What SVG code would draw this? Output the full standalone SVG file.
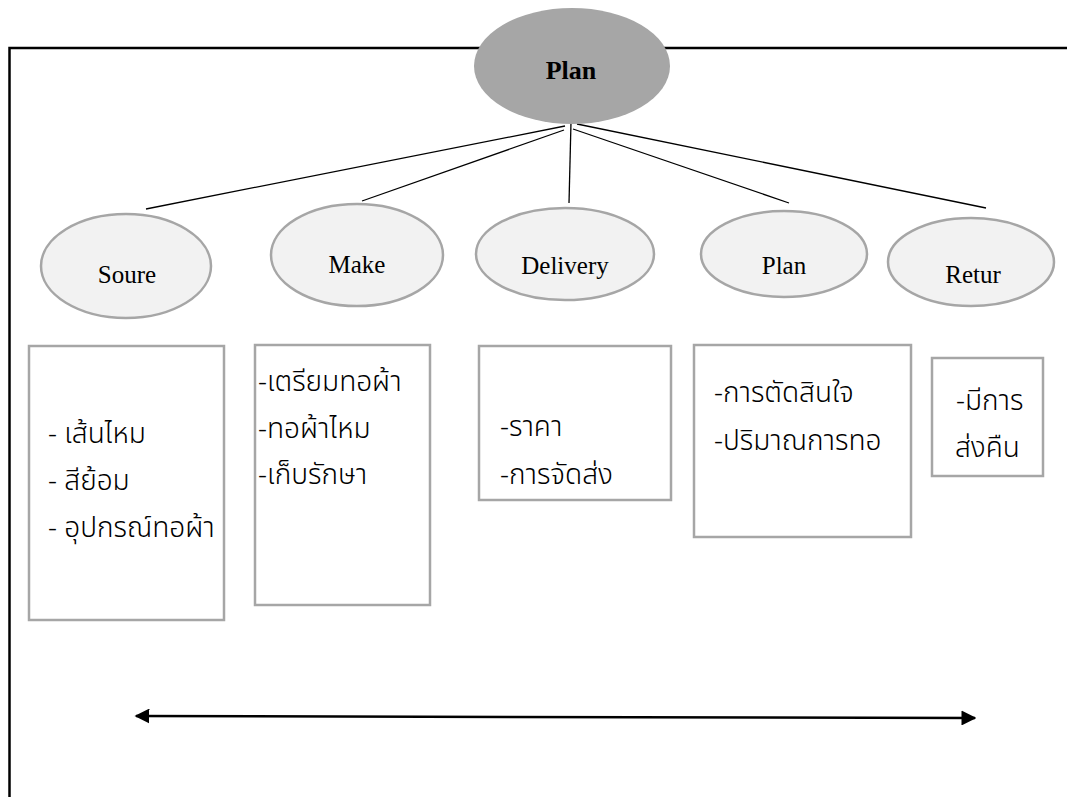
<svg xmlns="http://www.w3.org/2000/svg" width="1067" height="797" viewBox="0 0 1067 797">
<style>
.lbl{font-family:"Liberation Serif","Times New Roman",serif;font-size:25px;fill:#000;text-anchor:middle}
.top{font-size:26px;font-weight:bold}
.child{fill:#f2f2f2;stroke:#a6a6a6;stroke-width:2.5}
.box{fill:#fff;stroke:#a6a6a6;stroke-width:2.5}
.th{font-family:"Noto Sans Thai","Noto Sans","DejaVu Sans",sans-serif;font-size:28px;font-weight:300;fill:#000}
.con{stroke:#000;stroke-width:1.3;fill:none}
</style>
<defs>
<marker id="ah" viewBox="0 0 10 10" refX="9" refY="5" markerWidth="6" markerHeight="6" orient="auto-start-reverse" markerUnits="strokeWidth">
<path d="M0,0 L10,5 L0,10 Z" fill="#000"/>
</marker>
</defs>
<rect width="1067" height="797" fill="#fff"/>
<g id="frame">
<polyline points="9.5,797 9.5,48 1067,48" fill="none" stroke="#000" stroke-width="2.5"/>
</g>
<g id="connectors">
<line class="con" x1="565" y1="126" x2="146" y2="209"/>
<line class="con" x1="564" y1="130" x2="362" y2="201"/>
<line class="con" x1="571" y1="122" x2="569" y2="203"/>
<line class="con" x1="573" y1="129" x2="789" y2="203"/>
<line class="con" x1="577" y1="124" x2="986" y2="208"/>
<line x1="136" y1="716" x2="975" y2="718" stroke="#000" stroke-width="2.5" marker-start="url(#ah)" marker-end="url(#ah)"/>
</g>
<g id="plan-top">
<ellipse cx="572" cy="66" rx="98" ry="58" fill="#a6a6a6"/>
<text class="lbl top" x="571" y="79">Plan</text>
</g>
<g id="soure">
<ellipse class="child" cx="126" cy="266" rx="85" ry="52"/>
<text class="lbl" x="127" y="283">Soure</text>
</g>
<g id="make">
<ellipse class="child" cx="357" cy="255" rx="86" ry="51"/>
<text class="lbl" x="357" y="273">Make</text>
</g>
<g id="delivery">
<ellipse class="child" cx="565" cy="254" rx="89" ry="46"/>
<text class="lbl" x="565" y="274">Delivery</text>
</g>
<g id="plan">
<ellipse class="child" cx="784" cy="254" rx="83" ry="43"/>
<text class="lbl" x="784" y="274">Plan</text>
</g>
<g id="retur">
<ellipse class="child" cx="971" cy="262" rx="83" ry="44"/>
<text class="lbl" x="973" y="283">Retur</text>
</g>
<g id="box-soure">
<rect class="box" x="29" y="346" width="195" height="274"/>
<text class="th" x="48" y="443">- เส้นไหม</text>
<text class="th" x="48" y="490">- สีย้อม</text>
<text class="th" x="48" y="537">- อุปกรณ์ทอผ้า</text>
</g>
<g id="box-make">
<rect class="box" x="255" y="345" width="175" height="260"/>
<text class="th" x="258" y="391">-เตรียมทอผ้า</text>
<text class="th" x="258" y="438">-ทอผ้าไหม</text>
<text class="th" x="258" y="484">-เก็บรักษา</text>
</g>
<g id="box-delivery">
<rect class="box" x="479" y="346" width="192" height="154"/>
<text class="th" x="500" y="436">-ราคา</text>
<text class="th" x="500" y="484">-การจัดส่ง</text>
</g>
<g id="box-plan">
<rect class="box" x="694" y="345" width="217" height="192"/>
<text class="th" x="714" y="402">-การตัดสินใจ</text>
<text class="th" x="714" y="450">-ปริมาณการทอ</text>
</g>
<g id="box-retur">
<rect class="box" x="932" y="358" width="111" height="118"/>
<text class="th" x="956" y="410">-มีการ</text>
<text class="th" x="955" y="457">ส่งคืน</text>
</g>
</svg>
